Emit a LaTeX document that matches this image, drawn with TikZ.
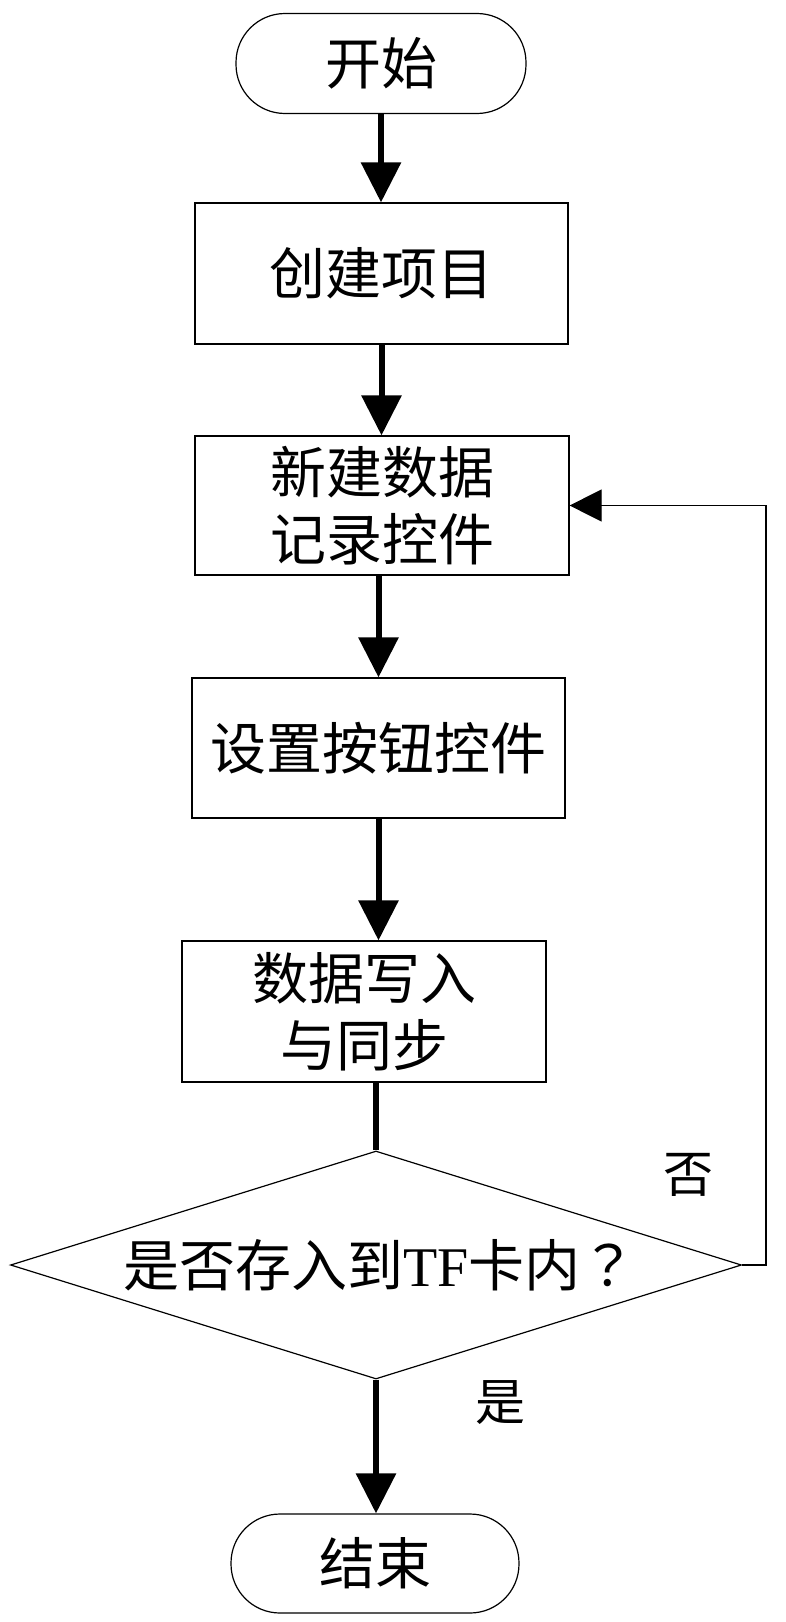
\documentclass[tikz,border=0pt]{standalone}
\usepackage{fontspec}
\setmainfont{Liberation Serif}
\newfontfamily\cjk{Noto Sans CJK SC}
\newfontfamily\cjktc{Noto Sans CJK TC}
\usetikzlibrary{arrows.meta,shapes.geometric}
\begin{document}
\begin{tikzpicture}[x=0.5pt,y=-0.5pt,
  every node/.style={font=\cjk\fontsize{28pt}{33.5pt}\selectfont},
  box/.style={draw,line width=0.6pt,inner sep=0pt,align=center},
  term/.style={draw,line width=0.6pt,rounded corners=24.5pt,inner sep=0pt,minimum width=145pt,minimum height=50pt},
  decision/.style={draw,line width=0.6pt,shape=diamond,aspect=3.2,inner sep=0pt,minimum width=365.5pt,minimum height=114pt},
  lbl/.style={font=\cjk\fontsize{25pt}{30pt}\selectfont,inner sep=0pt},
  bigarrow/.style={line width=3pt,-{Triangle[width=19.5pt,length=20pt]}},
  thickline/.style={line width=3pt},
  backarrow/.style={line width=0.6pt,-{Triangle[width=16pt,length=16pt]}}
]
\useasboundingbox (0,0) rectangle (786,1622);

\node[term] (start) at (381,63.5) {开始};
\node[box,minimum width=186.5pt,minimum height=70.5pt] (b1) at (381.5,273.5) {创建项目};
\node[box,minimum width=187pt,minimum height=69.5pt] (b2) at (382,505.5) {新建数据\\记录控件};
\node[box,minimum width=186.5pt,minimum height=70pt] (b3) at (378.5,748) {设置按钮控件};
\node[box,minimum width=182pt,minimum height=70.5pt] (b4) at (364,1011.5) {数据写入\\与同步};
\node[decision] (dec) at (376,1265) {\hspace{4pt}是否存入到{\rmfamily TF}卡内{\cjktc ？}};
\node[term,minimum width=144pt,minimum height=49.5pt] (end) at (375,1563.5) {结束};

\node[lbl] (no) at (688,1175) {否};
\node[lbl] (yes) at (500,1403) {是};

\coordinate (c1) at (766,1265);

\draw[bigarrow] (start.south) -- (start.south |- b1.north);
\draw[bigarrow] (b1.south) -- (b1.south |- b2.north);
\draw[bigarrow] (b3.north |- b2.south) -- (b3.north);
\draw[bigarrow] (b3.south) -- (b3.south |- b4.north);
\draw[thickline] (dec.north |- b4.south) -- (dec.north);
\draw[bigarrow] (dec.south) -- (dec.south |- end.north);
\draw[backarrow] (dec.east) -- (c1) |- (b2.east);
\end{tikzpicture}
\end{document}
